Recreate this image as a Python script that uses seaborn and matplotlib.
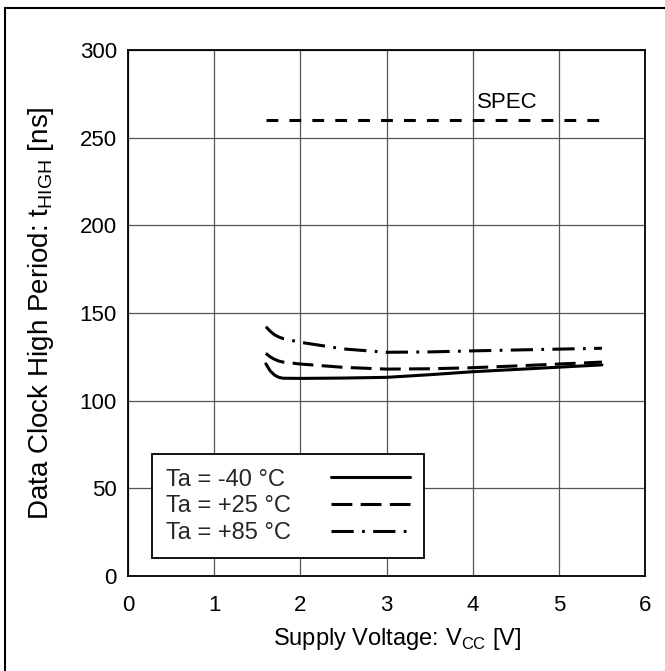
import numpy as np
import pandas as pd
import seaborn as sns
import matplotlib.pyplot as plt
from matplotlib.lines import Line2D

# supply voltage points [V]
vcc = [1.6, 1.65, 1.7, 1.75, 1.8, 2.0, 2.5, 3.0, 3.5, 4.0, 4.5, 5.0, 5.5]

# t_HIGH [ns] per temperature
t_m40 = [121.0, 117.0, 114.6, 113.3, 112.8, 112.7, 112.9, 113.3, 114.8, 116.5, 117.8, 119.1, 120.4]
t_p25 = [127.0, 125.0, 123.6, 122.6, 122.0, 120.9, 119.0, 118.0, 118.2, 118.8, 119.8, 120.9, 122.0]
t_p85 = [142.2, 139.6, 137.6, 136.3, 135.4, 133.3, 129.5, 127.6, 127.8, 128.4, 128.9, 129.4, 129.9]

spec_x = [1.6, 5.5]
spec_y = [260, 260]

labels = ["Ta = -40 °C", "Ta = +25 °C", "Ta = +85 °C"]
series = [t_m40, t_p25, t_p85]
styles = ["-", (0, (15, 6)), (0, (16, 6, 2, 6))]

x_ticks = [0, 1, 2, 3, 4, 5, 6]
y_ticks = [0, 50, 100, 150, 200, 250, 300]

sns.set_theme(style="white")
plt.rcParams["font.family"] = ["Liberation Sans", "DejaVu Sans"]
plt.rcParams["mathtext.fontset"] = "custom"
plt.rcParams["mathtext.rm"] = "Liberation Sans"
plt.rcParams["lines.scale_dashes"] = False

fig = plt.figure(figsize=(6.65, 6.71), dpi=100)
ax = fig.add_axes([128 / 665, 1 - 576 / 671, 517 / 665, 526 / 671])

df = pd.DataFrame({"vcc": vcc})
for lab, vals, ls in zip(labels, series, styles):
    df[lab] = vals
    sns.lineplot(data=df, x="vcc", y=lab, ax=ax, color="black", lw=2.2,
                 linestyle=ls, label=lab)

sns.lineplot(x=spec_x, y=spec_y, ax=ax, color="black", lw=2.2,
             linestyle=(0, (8.5, 8)))
ax.text(4.05, 267, "SPEC", fontsize=16, color="black")

ax.set_xlim(0, 6)
ax.set_ylim(0, 300)
ax.set_xticks(x_ticks)
ax.set_yticks(y_ticks)
ax.tick_params(length=0, labelsize=16, colors="black")
ax.tick_params(axis="x", pad=14)
ax.tick_params(axis="y", pad=8)
ax.grid(True, color="#555555", lw=0.9)
for sp in ax.spines.values():
    sp.set_color("black")
    sp.set_linewidth(1.3)

ax.set_xlabel(r"Supply Voltage: V$_{\mathregular{CC}}$ [V]", fontsize=17,
              color="black", labelpad=11)
ax.xaxis.set_label_coords(0.52, -0.095)
ax.set_ylabel(r"Data Clock High Period: t$_{\mathregular{HIGH}}$ [ns]",
              fontsize=20, color="black", labelpad=17)

leg = ax.legend(loc="lower left", bbox_to_anchor=(0.046, 0.034),
                borderaxespad=0, markerfirst=False, handlelength=3.35,
                handletextpad=1.7, fontsize=17, frameon=True, fancybox=False,
                labelspacing=0.2, borderpad=0.6)
leg.get_frame().set_edgecolor("black")
leg.get_frame().set_linewidth(1.3)
leg.get_frame().set_alpha(1)

# keep label text left-aligned and line samples in one column
fig.canvas.draw()
renderer = fig.canvas.get_renderer()
widths = [t.get_window_extent(renderer).width for t in leg.get_texts()]
rows = leg._legend_handle_box.get_children()[0].get_children()
for row, w in zip(rows, widths):
    row.sep += (max(widths) - w) * 72 / fig.dpi

# outer frame (only left and top edges fall inside the picture)
fig.add_artist(Line2D([5 / 665, 5 / 665], [0, 1 - 8 / 671], color="black", lw=1.5))
fig.add_artist(Line2D([5 / 665, 1], [1 - 8 / 671, 1 - 8 / 671], color="black", lw=1.5))

fig.savefig("out.png", dpi=100)
